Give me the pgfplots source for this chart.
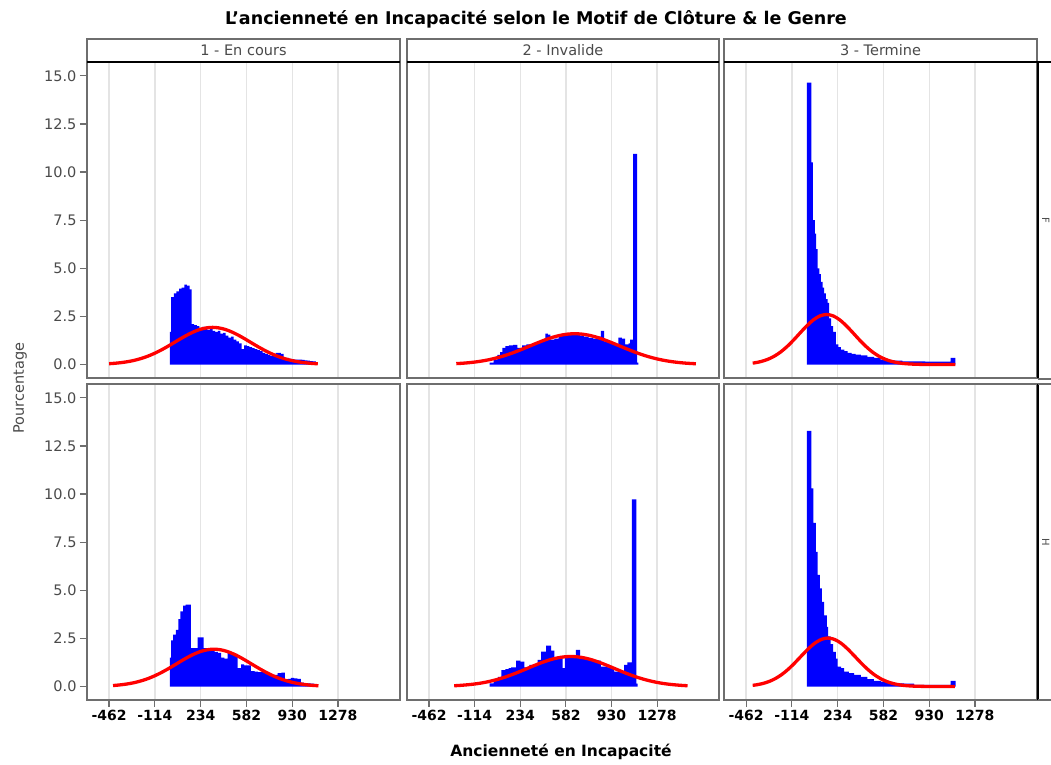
\documentclass[border=0pt]{standalone}
\usepackage{fontspec}
\setmainfont{DejaVu Sans}
\usepackage{pgfplots}
\pgfplotsset{compat=1.18}

\definecolor{frame}{HTML}{6E6E6E}
\definecolor{gridc}{HTML}{E4E4E4}
\definecolor{labc}{HTML}{4A4A4A}

\pgfplotsset{
 panel/.style={
  scale only axis, width=313bp, height=316bp, anchor=south west,
  xmin=-630, xmax=1750, ymin=-0.7, ymax=15.72,
  xtick={-462,-114,234,582,930,1278},
  ytick={0,2.5,5,7.5,10,12.5,15},
  xticklabels={}, yticklabels={},
  xmajorgrids, major grid style={gridc, line width=1.3bp},
  axis line style={frame, line width=1.6bp},
  tick style={frame, line width=1.2bp},
  tick align=outside, major tick length=7bp,
  tick pos=left,
 },
 leftcol/.style={yticklabels={0.0,2.5,5.0,7.5,10.0,12.5,15.0},
   yticklabel style={font=\fontsize{14.5bp}{16bp}\selectfont, text=labc}},
 notleft/.style={ytick style={draw=none}},
 bottomrow/.style={xticklabels={-462,-114,234,582,930,1278},
   xticklabel style={font=\bfseries\fontsize{14bp}{16bp}\selectfont, text=black}},
 toprow/.style={xtick style={draw=none}},
 hist/.style={const plot, fill=blue, draw=none},
 fit/.style={red, line width=3.3bp, smooth},
}

\begin{document}
\begin{tikzpicture}
\useasboundingbox (0,0) rectangle (1051bp,765bp);
\clip (0,0) rectangle (1051bp,765bp);
\fill[white] (0,0) rectangle (1051bp,765bp);

% ---------------- top row (F) ----------------
\begin{axis}[panel, leftcol, toprow, at={(87bp,387bp)}]
\addplot[hist] coordinates {(0,1.7)(10,3.5)(30,3.7)(50,3.8)(70,3.95)(90,4.0)(110,4.15)(130,4.1)(150,3.9)(165,2.1)(185,2.05)(205,2.0)(225,1.9)(245,1.95)(265,1.85)(285,1.8)(305,1.85)(325,1.75)(345,1.7)(365,1.75)(385,1.6)(405,1.65)(425,1.5)(445,1.4)(465,1.45)(485,1.3)(505,1.2)(525,1.1)(545,0.8)(565,1.0)(585,0.95)(605,0.9)(625,0.85)(645,0.8)(665,0.75)(685,0.7)(705,0.6)(725,0.55)(745,0.5)(765,0.45)(785,0.5)(805,0.6)(825,0.6)(845,0.55)(865,0.35)(885,0.35)(905,0.3)(925,0.28)(945,0.26)(965,0.25)(985,0.25)(1005,0.24)(1025,0.22)(1045,0.2)(1065,0.18)(1085,0.16)(1110,0)} \closedcycle;
\addplot[fit] coordinates {(-462,0.043)(-425,0.061)(-375,0.095)(-325,0.143)(-275,0.210)(-225,0.300)(-175,0.414)(-125,0.555)(-75,0.721)(-25,0.908)(25,1.109)(75,1.314)(125,1.509)(175,1.680)(225,1.815)(275,1.900)(325,1.930)(375,1.900)(425,1.815)(475,1.680)(525,1.509)(575,1.314)(625,1.109)(675,0.908)(725,0.721)(775,0.555)(825,0.414)(875,0.300)(925,0.210)(975,0.143)(1025,0.095)(1075,0.061)(1125,0.038)};
\end{axis}

\begin{axis}[panel, notleft, toprow, width=312bp, at={(407bp,387bp)}]
\addplot[hist] coordinates {(0,0.1)(30,0.25)(59,0.5)(80,0.65)(97,0.87)(120,0.95)(147,1.0)(180,1.02)(211,0.87)(249,1.0)(280,1.05)(310,1.05)(350,1.15)(380,1.2)(410,1.25)(426,1.6)(445,1.55)(464,1.3)(495,1.35)(527,1.5)(560,1.5)(590,1.55)(620,1.6)(650,1.55)(690,1.5)(720,1.45)(755,1.38)(790,1.35)(831,1.45)(849,1.75)(874,1.2)(910,1.15)(935,1.1)(958,0.95)(983,1.4)(1010,1.35)(1034,1.05)(1060,1.1)(1072,1.3)(1095,10.95)(1125,0.1)(1135,0)} \closedcycle;
\addplot[fit] coordinates {(-254,0.047)(-200,0.070)(-150,0.100)(-100,0.140)(-50,0.192)(0,0.257)(50,0.337)(100,0.432)(150,0.543)(200,0.666)(250,0.801)(300,0.942)(350,1.084)(400,1.221)(450,1.346)(500,1.452)(550,1.532)(600,1.583)(650,1.600)(700,1.583)(750,1.532)(800,1.452)(850,1.346)(900,1.221)(950,1.084)(1000,0.942)(1050,0.801)(1100,0.666)(1150,0.543)(1200,0.432)(1250,0.337)(1300,0.257)(1350,0.192)(1400,0.140)(1450,0.100)(1500,0.070)(1550,0.048)(1574,0.040)};
\end{axis}

\begin{axis}[panel, notleft, toprow, at={(724bp,387bp)}]
\addplot[hist] coordinates {(0,14.65)(35,10.5)(45,7.5)(60,6.8)(70,6.0)(81,5.0)(95,4.7)(106,4.3)(120,4.0)(132,3.7)(145,3.4)(158,3.2)(170,2.4)(185,2.0)(200,1.7)(220,1.05)(240,0.9)(258,0.78)(285,0.7)(309,0.6)(340,0.55)(370,0.52)(410,0.47)(460,0.4)(512,0.35)(560,0.25)(613,0.22)(670,0.2)(727,0.17)(800,0.16)(900,0.15)(1000,0.15)(1094,0.35)(1130,0)} \closedcycle;
\addplot[fit] coordinates {(-412,0.075)(-400,0.084)(-350,0.153)(-300,0.262)(-250,0.424)(-200,0.648)(-150,0.937)(-100,1.280)(-50,1.652)(0,2.014)(50,2.321)(100,2.527)(150,2.600)(200,2.527)(250,2.321)(300,2.014)(350,1.652)(400,1.280)(450,0.937)(500,0.648)(550,0.424)(600,0.262)(650,0.153)(700,0.084)(750,0.044)(800,0.022)(850,0.010)(900,0.004)(1000,0.001)(1130,0)};
\end{axis}

% ---------------- bottom row (H) ----------------
\begin{axis}[panel, leftcol, bottomrow, at={(87bp,65bp)}]
\addplot[hist] coordinates {(0,1.5)(10,2.4)(25,2.7)(45,2.95)(65,3.5)(80,3.9)(100,4.2)(120,4.25)(140,4.25)(160,2.0)(185,2.0)(212,2.55)(235,2.55)(257,2.0)(285,1.95)(313,1.85)(340,1.8)(365,1.75)(389,1.5)(415,1.45)(440,1.75)(465,1.7)(490,1.7)(516,0.95)(541,1.15)(565,1.1)(590,1.1)(617,0.8)(645,0.78)(670,0.75)(695,0.75)(720,0.7)(744,0.6)(770,0.58)(795,0.6)(820,0.7)(848,0.72)(875,0.38)(898,0.4)(921,0.45)(945,0.42)(970,0.4)(997,0.2)(1020,0.18)(1045,0.17)(1070,0.15)(1098,0.12)(1110,0)} \closedcycle;
\addplot[fit] coordinates {(-432,0.05)(-415,0.061)(-365,0.095)(-315,0.144)(-265,0.211)(-215,0.302)(-165,0.416)(-115,0.558)(-65,0.725)(-15,0.913)(35,1.115)(85,1.321)(135,1.517)(185,1.689)(235,1.824)(285,1.910)(335,1.940)(385,1.910)(435,1.824)(485,1.689)(535,1.517)(585,1.321)(635,1.115)(685,0.913)(735,0.725)(785,0.558)(835,0.416)(885,0.302)(935,0.211)(985,0.144)(1035,0.095)(1085,0.061)(1130,0.040)};
\end{axis}

\begin{axis}[panel, notleft, bottomrow, width=312bp, at={(407bp,65bp)}]
\addplot[hist] coordinates {(0,0.17)(30,0.3)(63,0.5)(89,0.85)(120,0.9)(145,0.95)(165,1.0)(203,1.34)(235,1.3)(266,1.0)(304,1.13)(335,1.15)(367,1.39)(393,1.82)(431,2.12)(469,1.86)(494,1.48)(525,1.45)(557,0.95)(575,1.5)(610,1.5)(640,1.55)(659,1.9)(691,1.56)(720,1.5)(747,1.39)(790,1.35)(849,1.04)(900,1.0)(950,0.78)(990,0.75)(1026,1.13)(1051,1.25)(1085,9.72)(1120,0.15)(1130,0)} \closedcycle;
\addplot[fit] coordinates {(-270,0.040)(-230,0.057)(-180,0.083)(-130,0.118)(-80,0.164)(-30,0.224)(20,0.299)(70,0.389)(120,0.495)(170,0.616)(220,0.748)(270,0.889)(320,1.032)(370,1.171)(420,1.298)(470,1.407)(520,1.490)(570,1.542)(620,1.560)(670,1.542)(720,1.490)(770,1.407)(820,1.298)(870,1.171)(920,1.032)(970,0.889)(1020,0.748)(1070,0.616)(1120,0.495)(1170,0.389)(1220,0.299)(1270,0.224)(1320,0.164)(1370,0.118)(1420,0.083)(1470,0.057)(1510,0.040)};
\end{axis}

\begin{axis}[panel, notleft, bottomrow, at={(724bp,65bp)}]
\addplot[hist] coordinates {(0,13.28)(35,10.3)(50,8.5)(68,7.0)(81,5.8)(99,5.1)(114,4.4)(132,3.7)(152,3.1)(162,2.6)(180,2.2)(200,1.8)(220,1.45)(233,1.04)(260,0.95)(284,0.78)(320,0.7)(360,0.6)(410,0.5)(461,0.38)(510,0.3)(562,0.26)(610,0.2)(663,0.17)(740,0.15)(815,0.09)(900,0.09)(1000,0.09)(1094,0.3)(1132,0)} \closedcycle;
\addplot[fit] coordinates {(-412,0.065)(-390,0.081)(-340,0.148)(-290,0.254)(-240,0.411)(-190,0.628)(-140,0.908)(-90,1.241)(-40,1.601)(10,1.952)(60,2.250)(110,2.449)(160,2.520)(210,2.449)(260,2.250)(310,1.952)(360,1.601)(410,1.241)(460,0.908)(510,0.628)(560,0.411)(610,0.254)(660,0.148)(710,0.081)(760,0.043)(810,0.021)(860,0.010)(960,0.002)(1125,0)};
\end{axis}

% ---------------- strip headers ----------------
\foreach \xa/\xb/\lab in {87/400/{1 - En cours}, 407/719/{2 - Invalide}, 724/1037/{3 - Termine}} {
  \draw[frame, line width=1.6bp, fill=white] (\xa bp,703bp) rectangle (\xb bp,726bp);
  \draw[black, line width=2.2bp] (\xa bp,703bp) -- (\xb bp,703bp);
  \node[font=\fontsize{14.5bp}{16bp}\selectfont, text=labc] at ({(\xa+\xb)/2*1bp},714.5bp) {\lab};
}

% ---------------- row strips (right) ----------------
\draw[black, line width=2.2bp] (1038bp,387bp) -- (1038bp,703bp) -- (1060bp,703bp);
\draw[frame, line width=1.6bp] (1038bp,386bp) -- (1060bp,386bp);
\draw[black, line width=2.2bp] (1038bp,65bp) -- (1038bp,381bp);
\draw[frame, line width=1.6bp] (1038bp,381bp) -- (1060bp,381bp);
\draw[frame, line width=1.6bp] (1038bp,65bp) -- (1060bp,65bp);
\node[font=\fontsize{10bp}{12bp}\selectfont, text=labc, rotate=-90, anchor=base, inner sep=0pt] at (1042bp,545bp) {F};
\node[font=\fontsize{10bp}{12bp}\selectfont, text=labc, rotate=-90, anchor=base, inner sep=0pt] at (1042bp,223bp) {H};

% ---------------- titles and axis labels ----------------
\node[font=\bfseries\fontsize{17.5bp}{20bp}\selectfont] at (536bp,746bp) {L'ancienneté en Incapacité selon le Motif de Clôture \& le Genre};
\node[font=\bfseries\fontsize{15.5bp}{18bp}\selectfont] at (561bp,13bp) {Ancienneté en Incapacité};
\node[font=\fontsize{14.5bp}{16bp}\selectfont, text=labc, rotate=90] at (20bp,377bp) {Pourcentage};
\end{tikzpicture}
\end{document}
